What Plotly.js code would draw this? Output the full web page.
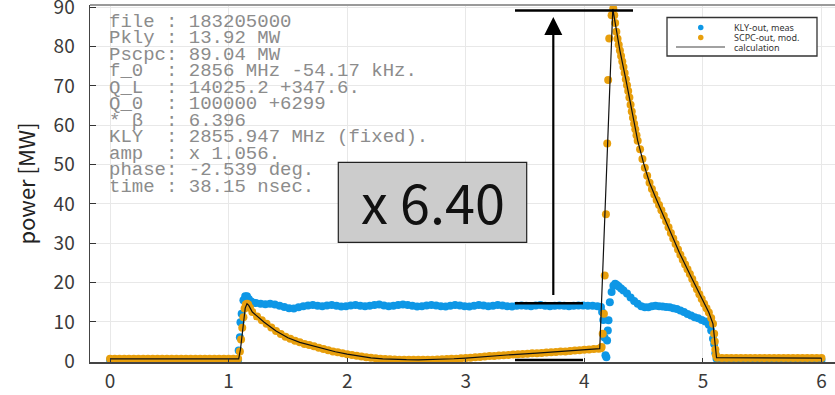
<!DOCTYPE html>
<html>
<head>
<meta charset="utf-8">
<script src="https://cdn.plot.ly/plotly-3.0.1.min.js"></script>
<style>html,body{margin:0;padding:0;background:#fff;}#chart{width:835px;height:395px;}</style>
</head>
<body>
<div id="chart"></div>
<script>
// ---------------- data (time in µs, power in MW) ----------------
const KLY_T = [
  0.00,0.04,0.08,0.12,0.16,0.20,0.24,0.28,0.32,0.36,0.40,0.44,0.48,0.52,0.56,0.60,0.64,0.68,0.72,0.76,0.80,0.84,0.88,0.92,0.96,1.00,1.04,1.08,
  1.085,1.095,1.10,1.11,1.125,1.14,1.155,1.17,1.19,1.21,
  1.23,1.27,1.31,1.35,1.39,1.43,1.47,1.51,1.55,1.59,
  1.63,1.67,1.71,1.75,1.79,1.83,1.87,1.91,1.95,1.99,
  2.03,2.07,2.11,2.15,2.19,2.23,2.27,2.31,2.35,2.39,
  2.43,2.47,2.51,2.55,2.59,2.63,2.67,2.71,2.75,2.79,
  2.83,2.87,2.91,2.95,2.99,3.03,3.07,3.11,3.15,3.19,
  3.23,3.27,3.31,3.35,3.39,3.43,3.47,3.51,3.55,3.59,
  3.63,3.67,3.71,3.75,3.79,3.83,3.87,3.91,3.95,3.99,
  4.03,4.07,4.11,
  4.14,4.15,4.16,4.17,4.178,4.186,4.192,4.198,4.204,4.215,4.23,4.245,4.26,4.275,
  4.29,4.31,4.33,4.36,4.39,4.42,4.45,4.48,4.51,4.54,
  4.57,4.60,4.63,4.66,4.69,4.72,4.75,4.78,4.81,4.84,
  4.87,4.90,4.93,4.96,4.99,5.02,5.05,5.07,5.085,5.095,5.105,5.115,
  5.16,5.20,5.24,5.28,5.32,5.36,5.40,5.44,5.48,5.52,5.56,5.60,5.64,5.68,5.72,5.76,5.80,5.84,5.88,5.92,5.96,6.00
];
const KLY_MEAS = [
  0.3,0.3,0.3,0.3,0.3,0.3,0.3,0.3,0.3,0.3,0.3,0.3,0.3,0.3,0.3,0.3,0.3,0.3,0.3,0.3,0.3,0.3,0.3,0.3,0.3,0.3,0.3,0.3,
  2.7,6.1,9.9,12.1,15.5,16.5,16.5,15.8,15.2,14.9,
  14.8,14.6,14.5,14.6,14.4,14.1,13.8,13.5,13.4,13.7,
  14.0,14.2,14.3,14.1,14.0,14.2,14.3,14.1,13.9,14.0,
  14.2,14.3,14.1,14.0,14.1,14.3,14.4,14.2,14.0,14.1,
  14.3,14.4,14.3,14.1,13.9,14.0,14.2,14.3,14.2,14.0,
  13.9,14.1,14.3,14.2,14.0,13.9,14.1,14.3,14.2,14.0,
  14.1,14.3,14.2,14.0,13.9,14.1,14.2,14.1,14.0,14.2,
  14.3,14.1,14.0,14.1,14.2,14.1,14.0,14.1,14.2,14.2,
  14.1,14.1,14.0,
  13.8,12.5,10.5,6.0,1.5,1.0,5.3,7.8,10.4,15.0,17.6,19.2,19.7,19.4,
  19.0,18.5,18.0,17.2,16.2,15.3,14.6,14.0,13.7,13.7,
  14.0,14.1,14.0,13.9,13.8,13.7,13.5,13.3,12.9,12.5,
  12.0,11.6,11.2,10.9,10.5,10.1,9.3,7.8,5.7,4.4,2.0,0.6,
  0.3,0.3,0.3,0.3,0.3,0.3,0.3,0.3,0.3,0.3,0.3,0.3,0.3,0.3,0.3,0.3,0.3,0.3,0.3,0.3,0.3,0.3
];

const SCPC_T = [
  0.00,0.04,0.08,0.12,0.16,0.20,0.24,0.28,0.32,0.36,0.40,0.44,0.48,0.52,0.56,0.60,0.64,0.68,0.72,0.76,0.80,0.84,0.88,0.92,0.96,1.00,1.04,1.08,
  1.095,1.105,1.115,1.125,1.135,1.145,1.155,1.165,1.18,
  1.20,1.24,1.28,1.32,1.36,1.40,1.44,1.48,1.52,1.56,
  1.60,1.64,1.68,1.72,1.76,1.80,1.84,1.88,1.92,1.96,
  2.00,2.04,2.08,2.12,2.16,2.20,2.24,2.28,2.32,2.36,
  2.40,2.44,2.48,2.52,2.56,2.60,2.64,2.68,2.72,2.76,
  2.80,2.84,2.88,2.92,2.96,3.00,3.04,3.08,3.12,3.16,
  3.20,3.24,3.28,3.32,3.36,3.40,3.44,3.48,3.52,3.56,
  3.60,3.64,3.68,3.72,3.76,3.80,3.84,3.88,3.92,3.96,
  4.00,4.04,4.08,4.12,
  4.14,4.146,4.155,4.165,4.172,4.182,4.193,4.201,4.21,4.23,4.244,4.252,
  4.26,4.27,4.28,4.29,4.30,4.31,4.32,4.33,4.34,4.35,
  4.36,4.37,4.38,4.39,4.40,4.41,4.42,4.43,4.44,4.45,
  4.47,4.49,4.51,4.53,4.55,4.57,4.59,4.61,4.63,4.65,
  4.67,4.69,4.71,4.73,4.75,4.77,4.79,4.81,4.83,4.85,
  4.87,4.89,4.91,4.93,4.95,4.97,4.99,5.01,5.03,5.05,
  5.07,5.085,5.095,5.10,5.105,5.11,5.12,
  5.16,5.20,5.24,5.28,5.32,5.36,5.40,5.44,5.48,5.52,5.56,5.60,5.64,5.68,5.72,5.76,5.80,5.84,5.88,5.92,5.96,6.00
];
const SCPC_MOD = [
  0.6,0.6,0.6,0.6,0.6,0.6,0.6,0.6,0.6,0.6,0.6,0.6,0.6,0.6,0.6,0.6,0.6,0.6,0.6,0.6,0.6,0.6,0.6,0.6,0.6,0.6,0.6,0.6,
  2.5,5.5,8.5,11.2,13.4,14.4,14.6,14.4,13.6,
  12.5,11.4,10.4,9.5,8.6,7.7,6.9,6.2,5.7,5.2,
  4.8,4.4,4.1,3.8,3.45,3.1,2.8,2.5,2.25,2.0,
  1.8,1.6,1.4,1.2,1.0,0.85,0.75,0.65,0.55,0.5,
  0.45,0.4,0.4,0.35,0.35,0.35,0.35,0.4,0.4,0.45,
  0.5,0.55,0.6,0.65,0.75,0.8,0.9,1.0,1.1,1.2,
  1.3,1.35,1.45,1.5,1.6,1.7,1.75,1.85,1.9,2.0,
  2.05,2.1,2.2,2.3,2.35,2.45,2.5,2.6,2.7,2.8,
  2.9,3.0,3.1,3.2,
  3.3,3.6,7.0,12.1,21.8,37.4,55.4,71.5,82.1,88.0,89.7,88.0,
  86.0,83.8,82.0,80.5,79.0,77.6,76.2,74.8,73.3,71.7,
  70.2,68.7,67.1,65.2,63.5,61.9,60.4,59.0,57.5,56.1,
  53.9,51.4,49.2,47.2,45.4,43.8,42.4,41.0,39.7,38.4,
  37.0,35.6,34.1,32.6,31.2,29.8,28.4,27.1,25.8,24.6,
  23.4,22.2,20.9,19.6,18.3,17.0,15.8,14.6,13.5,12.4,
  11.0,9.5,7.0,5.0,3.0,1.5,0.9,
  0.8,0.8,0.8,0.8,0.8,0.8,0.8,0.8,0.8,0.8,0.8,0.8,0.8,0.8,0.8,0.8,0.8,0.8,0.8,0.8,0.8,0.8
];

const CALC_T = [
  0.00,1.085,1.10,1.12,1.14,1.155,1.17,1.20,1.25,1.30,
  1.40,1.50,1.60,1.70,1.80,1.90,2.00,2.10,2.20,2.30,
  2.40,2.50,2.60,2.70,2.80,2.90,3.00,3.20,3.40,3.60,
  3.80,4.00,4.13,4.24,4.26,4.30,4.35,4.40,4.45,4.50,
  4.55,4.60,4.70,4.80,4.90,5.00,5.05,5.085,5.115,6.00
];
const CALC = [
  0.6,0.6,3.0,9.0,13.5,14.6,14.2,12.5,11.1,9.9,
  7.7,5.95,4.8,3.95,3.1,2.4,1.8,1.3,0.85,0.6,
  0.45,0.38,0.35,0.4,0.5,0.63,0.8,1.3,1.7,2.05,
  2.45,2.9,3.2,89.6,86.0,79.0,71.7,63.5,56.1,50.3,
  45.4,41.7,34.9,27.7,21.5,15.2,12.4,9.5,0.9,0.8
];

const X_TICKS = [0, 1, 2, 3, 4, 5, 6];
const Y_TICKS = [0, 10, 20, 30, 40, 50, 60, 70, 80, 90];
const SERIES_NAMES = ['KLY-out, meas', 'SCPC-out, mod.', 'calculation'];
const INFO_LINES = [
  'file : 183205000',
  'Pkly : 13.92 MW',
  'Pscpc: 89.04 MW',
  'f_0  : 2856 MHz -54.17 kHz.',
  'Q_L  : 14025.2 +347.6.',
  'Q_0  : 100000 +6299',
  '* β  : 6.396',
  'KLY  : 2855.947 MHz (fixed).',
  'amp  : x 1.056.',
  'phase: -2.539 deg.',
  'time : 38.15 nsec.'
];
const RATIO_LABEL = 'x 6.40';

// ---------------- helpers (pixel -> axis coords for decorations) ----------------
const W = 835, H = 395;
const M = {l: 90, r: 0, t: 5, b: 33};
const XR = [-0.169, 6.114], YR = [-0.2, 90.6];
const pw = W - M.l - M.r, ph = H - M.t - M.b;
const X = px => XR[0] + (px - M.l) / pw * (XR[1] - XR[0]);
const Y = py => YR[0] + (H - M.b - py) / ph * (YR[1] - YR[0]);
const PX = px => (px - M.l) / pw;
const PY = py => (H - M.b - py) / ph;

const SANS = 'Noto Sans CJK JP, Noto Sans, DejaVu Sans, sans-serif';
const BLUE = '#0e97e6', ORANGE = '#e89f0c';

const traces = [
  {x: KLY_T, y: KLY_MEAS, name: SERIES_NAMES[0], type: 'scatter', mode: 'markers',
   marker: {color: BLUE, size: 8, line: {width: 0}}, cliponaxis: false, showlegend: false},
  {x: SCPC_T, y: SCPC_MOD, name: SERIES_NAMES[1], type: 'scatter', mode: 'markers',
   marker: {color: ORANGE, size: 8, line: {width: 0}}, cliponaxis: false, showlegend: false},
  {x: CALC_T, y: CALC, name: SERIES_NAMES[2], type: 'scatter', mode: 'lines',
   line: {color: '#111', width: 1.2}, cliponaxis: false, showlegend: false}
];

const shapes = [
  // top frame line
  {type: 'line', xref: 'paper', yref: 'paper', x0: 0, x1: 1, y0: 1, y1: 1, line: {color: '#9a9a9a', width: 2}},
  // ratio markers
  {type: 'line', xref: 'x', yref: 'y', x0: X(515), x1: X(633), y0: Y(10.5), y1: Y(10.5), line: {color: '#000', width: 2.6}},
  {type: 'line', xref: 'x', yref: 'y', x0: X(515), x1: X(583), y0: Y(303.3), y1: Y(303.3), line: {color: '#000', width: 2.6}},
  {type: 'line', xref: 'x', yref: 'y', x0: X(515), x1: X(583), y0: Y(360), y1: Y(360), line: {color: '#000', width: 2.6}},
  // arrow shaft
  {type: 'line', xref: 'x', yref: 'y', x0: X(553.3), x1: X(553.3), y0: Y(295), y1: Y(34), line: {color: '#000', width: 2.2}},
  // arrow head
  {type: 'path', xref: 'x', yref: 'y', xsizemode: 'pixel', ysizemode: 'pixel',
   xanchor: X(553.3), yanchor: Y(35), path: 'M-9,0 L9,0 L0,18 Z', fillcolor: '#000', line: {width: 0}},
  // ratio box
  {type: 'rect', xref: 'x', yref: 'y', x0: X(338.3), x1: X(526.7), y0: Y(162.3), y1: Y(242.3),
   fillcolor: '#cccccc', line: {color: '#222', width: 1.2}, layer: 'above'},
  // legend box
  {type: 'rect', xref: 'paper', yref: 'paper', x0: PX(667), x1: PX(817), y0: PY(17.5), y1: PY(56),
   fillcolor: '#fff', line: {color: '#333', width: 1.3}, layer: 'above'},
  {type: 'circle', xref: 'paper', yref: 'paper', x0: PX(698), x1: PX(703.5), y0: PY(24.8), y1: PY(30.3),
   fillcolor: BLUE, line: {width: 0}, layer: 'above'},
  {type: 'circle', xref: 'paper', yref: 'paper', x0: PX(698), x1: PX(703.5), y0: PY(34.8), y1: PY(40.3),
   fillcolor: ORANGE, line: {width: 0}, layer: 'above'},
  {type: 'line', xref: 'paper', yref: 'paper', x0: PX(676), x1: PX(725), y0: PY(47), y1: PY(47),
   line: {color: '#444', width: 1.2}, layer: 'above'}
];

const annotations = [];
INFO_LINES.forEach((s, i) => {
  annotations.push({
    xref: 'paper', yref: 'paper', x: PX(107), y: PY(21.7 + 16.5 * i),
    xanchor: 'left', yanchor: 'middle', showarrow: false,
    text: s.replace(/ /g, '\u00a0'),
    font: {family: 'Liberation Mono, DejaVu Sans Mono, monospace', size: 19, color: '#8c8c8c'}
  });
});
annotations.push({
  xref: 'x', yref: 'y', x: X(432.5), y: Y(200), xanchor: 'center', yanchor: 'middle', showarrow: false,
  text: RATIO_LABEL, font: {family: SANS, size: 54, color: '#111'}
});
[27.5, 37.5, 47].forEach((py, i) => {
  annotations.push({
    xref: 'paper', yref: 'paper', x: PX(732), y: PY(py), xanchor: 'left', yanchor: 'middle', showarrow: false,
    text: SERIES_NAMES[i], font: {family: 'Noto Sans, DejaVu Sans, sans-serif', size: 9, color: '#333'}
  });
});

const layout = {
  width: W, height: H,
  margin: M,
  paper_bgcolor: '#fff', plot_bgcolor: '#fff',
  showlegend: false,
  xaxis: {
    range: XR, tickmode: 'array', tickvals: X_TICKS, ticktext: X_TICKS.map(String),
    ticks: 'inside', ticklen: 4, tickwidth: 1, tickcolor: '#333',
    showline: true, linecolor: '#444', linewidth: 1.5,
    showgrid: true, gridcolor: '#e8e8e8', gridwidth: 1, zeroline: false,
    tickfont: {family: SANS, size: 19, color: '#3a3a3a'}, ticklabelstandoff: 2
  },
  yaxis: {
    range: YR, tickmode: 'array', tickvals: Y_TICKS, ticktext: Y_TICKS.map(String),
    ticks: 'inside', ticklen: 6, tickwidth: 1, tickcolor: '#333',
    showline: true, linecolor: '#444', linewidth: 1.5,
    showgrid: true, gridcolor: '#e8e8e8', gridwidth: 1, zeroline: false,
    tickfont: {family: SANS, size: 19, color: '#3a3a3a'}, ticklabelstandoff: 10,
    ticklabeloverflow: 'allow',
    title: {text: 'power [MW]', font: {family: SANS, size: 22, color: '#222'}, standoff: 12}
  },
  shapes: shapes,
  annotations: annotations
};

Plotly.newPlot('chart', traces, layout, {staticPlot: true, displayModeBar: false});
</script>
</body>
</html>
